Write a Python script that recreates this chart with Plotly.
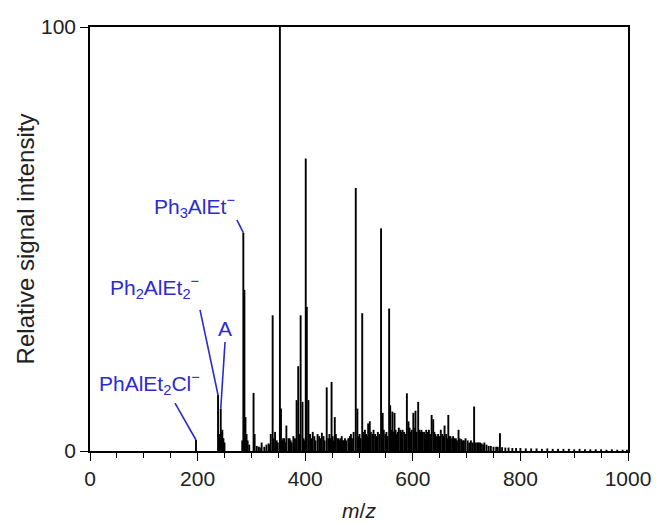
import plotly.graph_objects as go

# ---- data: stick spectrum (m/z, relative intensity) ----
main_mz = [197, 238, 243, 245, 248, 285, 287, 289, 291, 304, 306, 319, 334, 336, 339.5, 344,
           353, 355, 359, 365, 371, 378, 384, 387, 391.5, 395, 401, 403, 406, 414, 423, 431,
           440, 449, 455, 460, 466, 470, 494, 497, 506, 511, 517, 520, 525, 541, 544, 549,
           556, 558, 562, 566, 572, 577, 589, 592, 601, 605, 610, 616, 621, 635, 638, 652,
           659, 666, 670, 685, 690, 714, 720, 725, 733, 762]
main_int = [2.6, 13.2, 10.0, 4.5, 3.0, 51.5, 38.0, 8.0, 4.0, 13.7, 4.0, 2.0, 1.5, 4.0, 32.0, 4.5,
            100.0, 10.0, 3.0, 6.0, 3.0, 3.5, 12.0, 20.0, 32.0, 11.6, 69.0, 34.0, 12.0, 4.5, 4.0, 4.3,
            15.0, 16.3, 8.0, 3.0, 3.0, 2.5, 62.0, 10.0, 32.5, 5.0, 6.5, 7.0, 4.0, 52.5, 9.0, 4.0,
            33.6, 10.8, 9.3, 9.0, 4.5, 5.0, 13.6, 7.0, 9.0, 9.5, 11.6, 5.0, 4.5, 8.5, 7.5, 5.0,
            6.0, 8.5, 3.5, 5.0, 2.8, 10.5, 2.0, 2.0, 2.0, 4.2]

grass_mz = [240, 241, 246, 250, 283, 293, 296, 310, 314, 318, 324, 328, 332, 341, 347, 349,
            357, 361, 363, 369, 373, 375, 381, 389, 397, 399, 409, 411, 417, 419, 426, 428,
            434, 436, 443, 445, 447, 451, 453, 457, 462, 464, 468, 472, 474, 476, 480, 483,
            485, 487, 490, 499, 501, 503, 509, 513, 515, 522, 527, 530, 532, 535, 538, 546,
            551, 553, 560, 564, 568, 570, 574, 579, 581, 584, 586, 594, 596, 598, 603, 607,
            612, 614, 618, 623, 625, 627, 630, 632, 640, 642, 645, 647, 649, 655, 657, 662,
            664, 668, 673, 675, 677, 680, 682, 687, 693, 695, 698, 702, 705, 708, 711, 717,
            722, 728, 731, 737, 741, 745, 750, 755, 758, 766, 772, 778, 785, 792, 800, 810,
            820, 830, 840, 850, 860, 870, 880, 890, 900, 910, 920, 930, 940, 950, 960, 970,
            980, 990, 998]
grass_int = [3.0, 4.0, 5.0, 2.0, 2.5, 2.5, 1.5, 1.2, 1.0, 0.8, 1.0, 1.5, 1.8, 3.0, 2.5, 2.0,
             2.5, 3.0, 2.0, 3.0, 2.5, 2.0, 3.0, 4.0, 3.0, 2.5, 4.0, 3.0, 3.5, 2.5, 3.5, 3.0,
             3.5, 2.5, 3.0, 4.0, 3.0, 3.5, 2.5, 4.0, 3.0, 2.5, 3.5, 2.5, 3.0, 2.5, 3.0, 3.5,
             4.0, 3.0, 4.5, 3.5, 4.0, 3.0, 4.5, 4.0, 3.5, 4.5, 5.0, 4.0, 3.5, 4.5, 4.0, 5.0,
             4.5, 3.5, 5.0, 4.5, 5.0, 4.0, 5.5, 4.5, 5.0, 4.5, 4.0, 5.5, 4.5, 5.0, 5.5, 4.5,
             5.0, 4.5, 4.5, 4.0, 5.0, 4.5, 5.0, 4.0, 4.5, 4.0, 3.5, 4.0, 3.5, 4.0, 3.5, 4.0,
             3.0, 3.5, 3.0, 3.5, 3.0, 3.0, 2.5, 3.0, 2.5, 2.5, 3.0, 2.5, 2.0, 2.5, 2.0, 2.0,
             2.0, 1.8, 1.5, 1.5, 1.2, 1.2, 1.0, 1.0, 1.0, 0.9, 0.8, 0.8, 0.7, 0.7, 0.7, 0.6,
             0.6, 0.6, 0.5, 0.6, 0.5, 0.5, 0.5, 0.5, 0.4, 0.5, 0.4, 0.4, 0.4, 0.4, 0.3, 0.4,
             0.3, 0.3, 0.3]

# labelled peaks
labels = ["PhAlEt<sub>2</sub>Cl<sup>−</sup>", "Ph<sub>2</sub>AlEt<sub>2</sub><sup>−</sup>", "A",
          "Ph<sub>3</sub>AlEt<sup>−</sup>"]
label_mz = [197, 238, 243, 285]
label_int = [2.6, 13.2, 10.0, 51.5]

x_ticks = [0, 200, 400, 600, 800, 1000]
y_ticks = [0, 100]

BLUE = "#2b2bd4"
FONT = "Liberation Sans, Arial, sans-serif"
FS = 21

xs, ys = [], []
for m, h in zip(grass_mz + main_mz, grass_int + main_int):
    xs += [m, m, None]
    ys += [0, h, None]

fig = go.Figure()
fig.add_trace(go.Scatter(x=xs, y=ys, mode="lines",
                         line=dict(color="black", width=1.9),
                         hoverinfo="skip", showlegend=False))

# label line start points and text positions (layout, data coordinates)
line_start = [(158, 11.3), (204.5, 33.3), (251, 25.7), (273, 54.5)]
text_pos = [(111, 16.0), (119, 38.6), (251, 28.9), (195, 57.6)]

for lab, m, h, (sx, sy), (tx, ty) in zip(labels, label_mz, label_int, line_start, text_pos):
    fig.add_shape(type="line", x0=sx, y0=sy, x1=m, y1=h,
                  line=dict(color=BLUE, width=1.6), layer="above")
    fig.add_annotation(x=tx, y=ty, text=lab, showarrow=False,
                       font=dict(family=FONT, size=FS, color=BLUE),
                       xanchor="center", yanchor="middle")

fig.update_layout(
    width=656, height=524,
    margin=dict(l=90, r=28, t=27, b=73, autoexpand=False),
    paper_bgcolor="white", plot_bgcolor="white",
    font=dict(family=FONT, size=FS, color="#222"),
    xaxis=dict(range=[0, 1000], tickvals=x_ticks, ticks="outside", ticklen=8, tickwidth=1.4,
               tickcolor="black", showline=True, linecolor="black", linewidth=1.5,
               mirror=True, showgrid=False, zeroline=False, automargin=False,
               tickfont=dict(family=FONT, size=FS, color="#222"),
               minor=dict(dtick=50, ticks="outside", ticklen=5, tickwidth=1.2, tickcolor="black"),
               title=dict(text="<i>m</i>/<i>z</i>", standoff=14,
                          font=dict(family=FONT, size=FS, color="#222"))),
    yaxis=dict(range=[0, 100], tickvals=y_ticks, ticks="outside", ticklen=8, tickwidth=1.4,
               tickcolor="black", showline=True, linecolor="black", linewidth=1.5,
               mirror=True, showgrid=False, zeroline=False, automargin=False,
               tickfont=dict(family=FONT, size=FS, color="#222"),
               title=dict(text="Relative signal intensity", standoff=0,
                          font=dict(family=FONT, size=24, color="#222"))),
)

fig.write_html("out.html", config={"displayModeBar": False})
# remove the browser's default page margin so the figure sits at the window's corner
with open("out.html", encoding="utf-8") as f:
    html = f.read()
html = html.replace("<head>", "<head><style>html,body{margin:0;padding:0;}</style>", 1)
with open("out.html", "w", encoding="utf-8") as f:
    f.write(html)
